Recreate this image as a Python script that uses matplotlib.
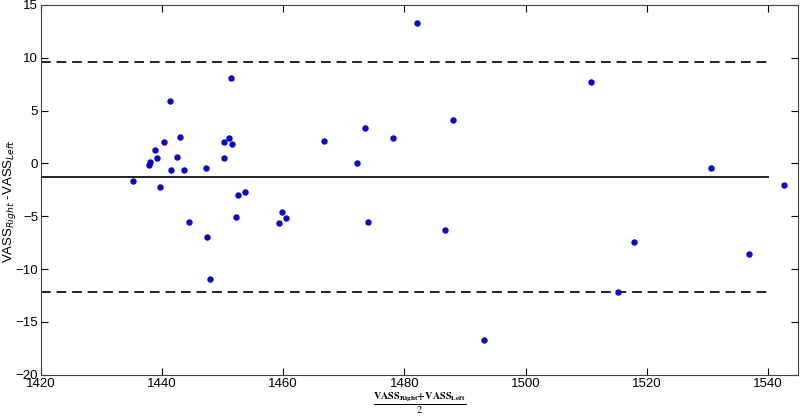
import matplotlib
matplotlib.use("Agg")
import matplotlib.pyplot as plt

plt.rcParams["font.family"] = ["Liberation Sans", "DejaVu Sans"]

mean_vals = [
    1435.2, 1437.9, 1438.0, 1438.8, 1439.1, 1439.7, 1440.3, 1441.3, 1441.4,
    1442.5, 1443.0, 1443.7, 1444.5, 1447.2, 1447.4, 1447.9, 1450.2, 1450.2,
    1451.1, 1451.3, 1451.5, 1452.2, 1452.5, 1453.7, 1459.3, 1459.8, 1460.4,
    1466.7, 1472.2, 1473.5, 1474.0, 1478.1, 1482.1, 1486.7, 1488.0, 1493.2,
    1510.7, 1515.2, 1517.8, 1530.6, 1536.9, 1542.6,
]
diff_vals = [
    -1.7, -0.13, 0.12, 1.3, 0.54, -2.25, 2.0, 5.88, -0.66,
    0.6, 2.5, -0.63, -5.5, -0.47, -6.93, -10.94, 2.05, 0.54,
    2.44, 8.06, 1.83, -5.03, -2.94, -2.66, -5.66, -4.62, -5.15,
    2.09, 0.0, 3.32, -5.5, 2.37, 13.3, -6.26, 4.08, -16.7,
    7.75, -12.2, -7.43, -0.47, -8.57, -1.99,
]

bias = -1.28
upper_loa = 9.6
lower_loa = -12.15
line_span = [1420, 1540]

fig = plt.figure(figsize=(8, 4.16), dpi=100)
ax = fig.add_axes([0.051, 0.099, 0.947, 0.889])

ax.plot(mean_vals, diff_vals, "o", color="#0808c8", markersize=3.6, zorder=3)
ax.plot(line_span, [bias, bias], "-", color="#222222", linewidth=1.4)
ax.plot(line_span, [upper_loa, upper_loa], "--", color="#222222",
        linewidth=1.4, dashes=(5, 3))
ax.plot(line_span, [lower_loa, lower_loa], "--", color="#222222",
        linewidth=1.4, dashes=(5, 3))

ax.set_xlim(1420, 1545)
ax.set_ylim(-20, 15)
ax.set_xticks(range(1420, 1541, 20))
ax.set_yticks(range(-20, 16, 5))
ax.tick_params(direction="in", top=True, right=True, length=5,
               labelsize=9.5, pad=2)
for s in ax.spines.values():
    s.set_color("#444444")

ax.set_xlabel(r"$\frac{\mathbf{VASS}_{\mathbf{Right}}\mathbf{+VASS}_{\mathbf{Left}}}{2}$",
              math_fontfamily="stix", fontsize=10.5)
ax.xaxis.set_label_coords(0.5, -0.043, transform=ax.transAxes)
ax.xaxis.label.set_va("top")

ax.set_ylabel(r"VASS$_{Right}$ -VASS$_{Left}$", fontsize=9.5)
ax.yaxis.set_label_coords(-0.030, 0.47)

fig.savefig("out.png", dpi=100)
